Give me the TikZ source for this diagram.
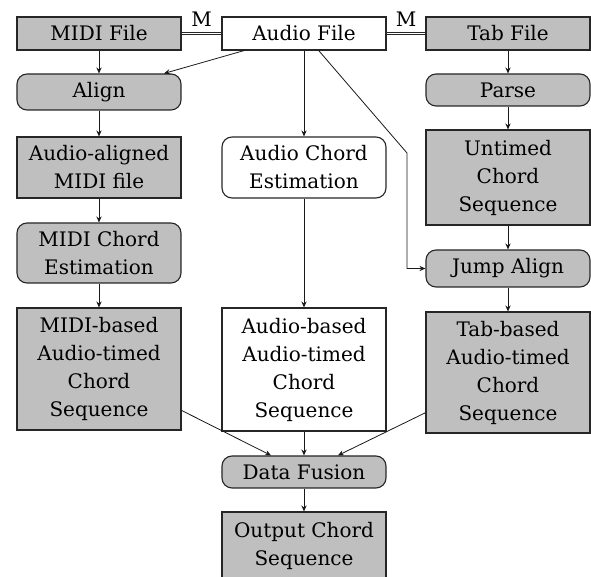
\documentclass[tikz,border=0pt]{standalone}
\usepackage{fontspec}
\setmainfont{DejaVu Serif}
\usetikzlibrary{arrows.meta}
\begin{document}
\begin{tikzpicture}[x=0.5pt,y=-0.5pt,
  box/.style={draw=black!85, line width=0.55pt, align=center,
    minimum width=82pt, inner sep=0pt, font=\fontsize{10}{14}\selectfont},
  datum/.style={box, fill=black!25},
  plain/.style={box, fill=white},
  proc/.style={box, rounded corners=5pt, fill=black!25},
  plainproc/.style={box, rounded corners=5pt, fill=white},
  flow/.style={-{Stealth[length=3pt,width=2.6pt]}, line width=0.4pt, draw=black!90},
  link/.style={double, double distance=0.8pt, line width=0.45pt, draw=black!85},
  tag/.style={font=\fontsize{10}{14}\selectfont},
]
\useasboundingbox (0,0) rectangle (591,577);

% inputs
\node[datum, minimum height=16.5pt] (midi)  at (99,33.5)  {MIDI File};
\node[plain, minimum height=16.5pt] (audio) at (304,33.5) {Audio File};
\node[datum, minimum height=16.5pt] (tab)   at (508,33.5) {Tab File};

% MIDI branch
\node[proc,  minimum height=18pt]   (align)   at (99,92)    {Align};
\node[datum, minimum height=30.5pt] (aligned) at (99,167.5) {Audio-aligned\\MIDI file};
\node[proc,  minimum height=30pt]   (mce)     at (99,253)   {MIDI Chord\\Estimation};
\node[datum, minimum height=61pt]   (midiseq) at (99,369)   {MIDI-based\\Audio-timed\\Chord\\Sequence};

% audio branch
\node[plainproc, minimum height=30.5pt] (ace)      at (304,167.5) {Audio Chord\\Estimation};
\node[plain,     minimum height=61.5pt] (audioseq) at (304,369.5) {Audio-based\\Audio-timed\\Chord\\Sequence};

% tab branch
\node[proc,  minimum height=16pt]   (parse)   at (508,90)    {Parse};
\node[datum, minimum height=47.5pt] (untimed) at (508,177.5) {Untimed\\Chord\\Sequence};
\node[proc,  minimum height=18.5pt] (jump)    at (508,268.5) {Jump Align};
\node[datum, minimum height=60.5pt] (tabseq)  at (508,372.5) {Tab-based\\Audio-timed\\Chord\\Sequence};

% fusion
\node[proc,  minimum height=16pt]   (fusion) at (304,472)   {Data Fusion};
\node[datum, minimum height=33.5pt] (output) at (304,545.5) {Output Chord\\Sequence};

% matching links
\draw[link] (midi) -- (audio) node[midway, above, tag] {M};
\draw[link] (audio) -- (tab) node[midway, above, tag] {M};

% flow
\draw[flow] (midi) -- (align);
\draw[flow] (audio) -- (align);
\draw[flow] (align) -- (aligned);
\draw[flow] (aligned) -- (mce);
\draw[flow] (mce) -- (midiseq);

\draw[flow] (audio) -- (ace);
\draw[flow] (ace) -- (audioseq);

\draw[flow] (tab) -- (parse);
\draw[flow] (parse) -- (untimed);
\draw[flow] (untimed) -- (jump);
\draw[flow] (jump) -- (tabseq);
\coordinate (bend) at (407,153);
\draw[flow] (audio) -- (bend) |- (jump);

\draw[flow] (midiseq) -- (fusion);
\draw[flow] (audioseq) -- (fusion);
\draw[flow] (tabseq) -- (fusion);
\draw[flow] (fusion) -- (output);
\end{tikzpicture}
\end{document}
